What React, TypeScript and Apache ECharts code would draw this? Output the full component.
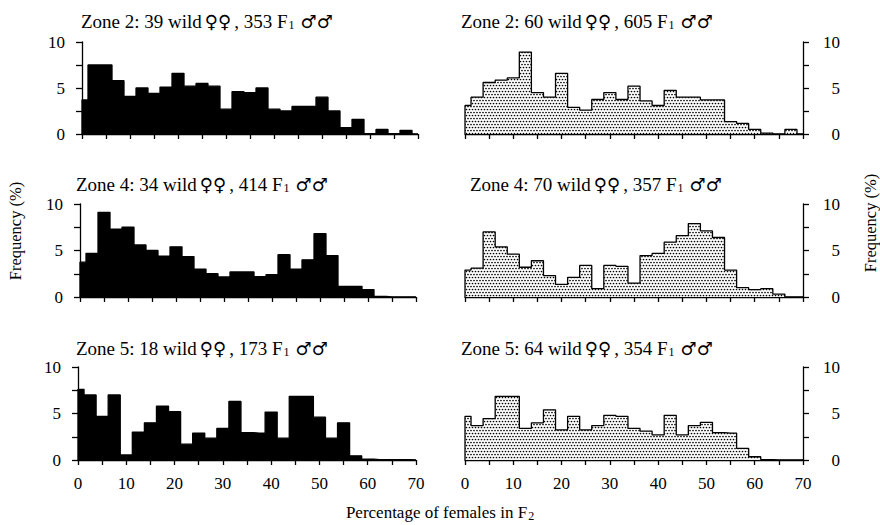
import React, { useEffect, useRef } from "react";
import * as echarts from "echarts";

// Bin centres (% females in F2)
const binCenters = [0, 2.5, 5, 7.5, 10, 12.5, 15, 17.5, 20, 22.5, 25, 27.5, 30, 32.5, 35, 37.5, 40, 42.5, 45, 47.5, 50, 52.5, 55, 57.5, 60, 62.5, 65, 67.5, 70];

// Frequencies (%) per bin
const zone2Wild39 = [3.7, 7.5, 7.5, 5.8, 4.1, 5.0, 4.4, 5.1, 6.6, 5.2, 5.5, 5.2, 2.7, 4.6, 4.5, 5.0, 2.7, 2.5, 3.0, 3.0, 4.0, 2.5, 0.7, 1.6, 0.05, 0.5, 0.05, 0.4, 0];
const zone2Wild60 = [3.1, 4.0, 5.6, 5.85, 6.1, 8.9, 4.5, 4.0, 6.6, 2.9, 2.6, 3.75, 4.5, 3.75, 5.2, 3.6, 3.1, 4.75, 4.0, 4.0, 3.7, 3.7, 1.35, 1.15, 0.5, 0.1, 0, 0.5, 0];
const zone4Wild34 = [3.75, 4.7, 9.1, 7.3, 7.5, 5.6, 5.0, 4.4, 5.4, 4.35, 3.0, 2.5, 2.15, 2.7, 2.7, 2.2, 2.4, 4.55, 3.0, 4.0, 6.8, 4.45, 1.15, 1.15, 0.8, 0.07, 0, 0, 0];
const zone4Wild70 = [2.9, 3.1, 7.0, 5.4, 4.6, 3.2, 3.9, 2.3, 1.35, 2.1, 3.4, 0.9, 3.4, 3.3, 1.5, 4.45, 4.7, 5.9, 6.6, 7.9, 7.1, 6.4, 2.9, 1.0, 0.8, 0.9, 0.3, 0, 0];
const zone5Wild18 = [7.6, 7.0, 4.7, 7.0, 0.55, 3.0, 4.0, 5.8, 5.2, 1.7, 2.9, 2.35, 3.4, 6.3, 2.95, 2.9, 5.15, 2.35, 6.85, 6.85, 4.6, 2.35, 4.0, 0.45, 0.1, 0.05, 0.05, 0.05, 0];
const zone5Wild64 = [4.7, 3.7, 4.45, 6.85, 6.85, 3.4, 4.0, 5.4, 3.25, 4.7, 3.25, 3.7, 4.8, 4.7, 3.4, 3.1, 2.7, 4.8, 2.7, 3.7, 4.05, 2.95, 2.9, 1.25, 0.35, 0.05, 0, 0, 0];

const panelValues = [zone2Wild39, zone2Wild60, zone4Wild34, zone4Wild70, zone5Wild18, zone5Wild64];
// zone, wild females, F1 males per panel
const panelZones = ["2", "2", "4", "4", "5", "5"];
const panelWild = ["39", "60", "34", "70", "18", "64"];
const panelF1 = ["353", "605", "414", "357", "173", "354"];

const xTickLabels = ["0", "10", "20", "30", "40", "50", "60", "70"];
const yTickLabels = ["0", "5", "10"];
const yAxisTitle = "Frequency (%)";

const FONT = '"Liberation Serif", "DejaVu Serif", serif';
const SYMFONT = '"DejaVu Sans", "Noto Sans", sans-serif';

function makeStipple(): HTMLCanvasElement {
  const c = document.createElement("canvas");
  c.width = 6;
  c.height = 6;
  const ctx = c.getContext("2d")!;
  ctx.fillStyle = "#fff";
  ctx.fillRect(0, 0, 6, 6);
  ctx.fillStyle = "#000";
  const dots = [
    [1.5, 1.5],
    [4.5, 1.5],
    [0, 4.5],
    [3, 4.5],
    [6, 4.5],
  ];
  dots.forEach(([x, y]) => {
    ctx.beginPath();
    ctx.arc(x, y, 0.85, 0, Math.PI * 2);
    ctx.fill();
  });
  return c;
}

export default function App() {
  const ref = useRef<HTMLDivElement>(null);

  useEffect(() => {
    if (!ref.current) return;
    const chart = echarts.init(ref.current, null, { renderer: "svg" });
    const stipple = { image: makeStipple(), repeat: "repeat", imageWidth: 6, imageHeight: 6 };

    const boxX = [
      [82, 418],
      [465, 803],
      [80, 416],
      [465, 803],
      [78, 416],
      [465, 803],
    ];
    const rows = [
      { top: 42, bottom: 134, titleY: 21 },
      { top: 204, bottom: 297, titleY: 184 },
      { top: 367, bottom: 460, titleY: 348 },
    ];
    const titleX = [81, 461, 76, 470, 76, 461];

    const grid: any[] = [];
    const xAxis: any[] = [];
    const yAxis: any[] = [];
    const series: any[] = [];
    const graphic: any[] = [];

    for (let r = 0; r < 3; r++) {
      for (let c = 0; c < 2; c++) {
        const i = r * 2 + c;
        const row = rows[r];
        const [x0, x1] = boxX[i];
        grid.push({ left: x0, top: row.top, width: x1 - x0, height: row.bottom - row.top, containLabel: false });
        xAxis.push({
          type: "value",
          gridIndex: i,
          min: 0,
          max: 70,
          interval: 5,
          axisLine: { show: true, onZero: false, lineStyle: { color: "#000", width: 1.3 } },
          axisTick: { show: true, inside: false, length: 5, lineStyle: { color: "#000", width: 1.3 } },
          axisLabel: {
            show: r === 2,
            color: "#000",
            fontFamily: FONT,
            fontSize: 17,
            margin: 15,
            formatter: (v: number) => (xTickLabels.includes(String(v)) ? String(v) : ""),
          },
          splitLine: { show: false },
        });
        yAxis.push({
          type: "value",
          gridIndex: i,
          position: c === 0 ? "left" : "right",
          min: 0,
          max: 10,
          interval: 2.5,
          axisLine: { show: true, onZero: false, lineStyle: { color: "#000", width: 1.3 } },
          axisTick: { show: true, inside: false, length: 6, lineStyle: { color: "#000", width: 1.3 } },
          axisLabel: {
            show: true,
            color: "#000",
            fontFamily: FONT,
            fontSize: 17,
            margin: c === 0 ? 17 : 37,
            align: "right",
            formatter: (v: number) => (yTickLabels.includes(String(v)) ? String(v) : ""),
          },
          splitLine: { show: false },
        });
        const vals = panelValues[i];
        const data: number[][] = [[binCenters[0], 0]];
        binCenters.forEach((x, k) => data.push([x, vals[k]]));
        data.push([binCenters[binCenters.length - 1], 0]);
        series.push({
          type: "line",
          xAxisIndex: i,
          yAxisIndex: i,
          step: "middle",
          data,
          symbol: "none",
          silent: true,
          lineStyle: { color: "#000", width: 1.3 },
          areaStyle: { color: c === 0 ? "#000" : stipple, opacity: 1 },
        });
        graphic.push({
          type: "text",
          x: titleX[i],
          y: row.titleY,
          style: {
            text: `Zone ${panelZones[i]}: ${panelWild[i]} wild{s|♀♀}, ${panelF1[i]} F{sub|1}{s|♂♂}`,
            font: `19px ${FONT}`,
            fill: "#000",
            verticalAlign: "middle",
            rich: {
              s: { fontFamily: SYMFONT, fontSize: 18, fill: "#000", padding: [0, 3, 0, 3] },
              sub: { fontFamily: FONT, fontSize: 12, fill: "#000", padding: [8, 3, 0, 1] },
            },
          },
        });
      }
    }

    graphic.push({
      type: "text",
      x: 15,
      y: 231,
      rotation: Math.PI / 2,
      style: { text: yAxisTitle, font: `16.5px ${FONT}`, fill: "#000", align: "center", verticalAlign: "middle" },
    });
    graphic.push({
      type: "text",
      x: 870,
      y: 223,
      rotation: Math.PI / 2,
      style: { text: yAxisTitle, font: `16.5px ${FONT}`, fill: "#000", align: "center", verticalAlign: "middle" },
    });
    graphic.push({
      type: "text",
      x: 440,
      y: 512,
      style: {
        text: "Percentage of females in F{sub|2}",
        font: `17px ${FONT}`,
        fill: "#000",
        align: "center",
        verticalAlign: "middle",
        rich: { sub: { fontFamily: FONT, fontSize: 12, fill: "#000", padding: [8, 0, 0, 1] } },
      },
    });

    chart.setOption({
      animation: false,
      backgroundColor: "#fff",
      grid,
      xAxis,
      yAxis,
      series,
      graphic,
    });
    return () => chart.dispose();
  }, []);

  return <div ref={ref} style={{ width: 880, height: 525, position: "absolute", left: 0, top: 0 }} />;
}
